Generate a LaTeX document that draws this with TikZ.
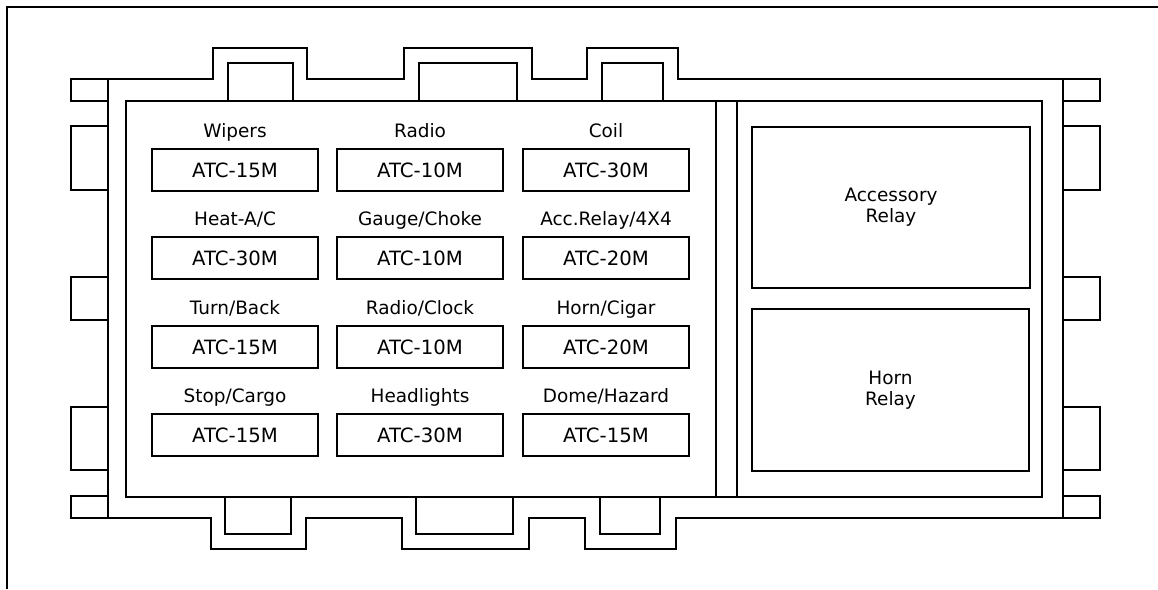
\documentclass[tikz,border=0pt]{standalone}
\usepackage{fontspec}
\setmainfont{DejaVu Sans}
\usetikzlibrary{positioning}

\tikzset{
  fusebox/.style={draw, line width=0.8pt, minimum width=3.32cm, minimum height=0.84cm, inner sep=0pt, font=\fontsize{11.2}{13}\selectfont},
  fuselabel/.style={inner sep=0pt, text height=0.75em, text depth=0.25em},
  relaybox/.style={draw, line width=1pt, align=center, inner sep=0pt, minimum width=5.55cm, minimum height=3.23cm},
}

\begin{document}
\begin{tikzpicture}[x=0.02cm, y=-0.02cm, line width=1pt, font=\fontsize{10.5}{12}\selectfont]
\useasboundingbox (0,0) rectangle (1158,589);
% page edge
\draw[line width=0.8pt] (1158,7) -- (7,7) -- (7,589);
% housing outline
\draw (108,79) -- (213,79) -- (213,48) -- (307,48) -- (307,79) -- (404,79) -- (404,48) -- (532,48) -- (532,79)
  -- (587,79) -- (587,48) -- (678,48) -- (678,79) -- (1063,79) -- (1063,518) -- (676,518) -- (676,549)
  -- (585,549) -- (585,518) -- (529,518) -- (529,549) -- (402,549) -- (402,518) -- (306,518) -- (306,549)
  -- (211,549) -- (211,518) -- (108,518) -- cycle;
% side tabs
\foreach \ya/\yb in {79/101, 126/190, 277/320, 407/470, 496/518} {
  \draw (108,\ya) -- (71,\ya) -- (71,\yb) -- (108,\yb);
  \draw (1063,\ya) -- (1100,\ya) -- (1100,\yb) -- (1063,\yb);
}
% lugs top and bottom
\foreach \xa/\xb in {228/293, 419/517, 602/663} \draw (\xa,101) -- (\xa,63) -- (\xb,63) -- (\xb,101);
\foreach \xa/\xb in {225/291, 416/513, 600/660} \draw (\xa,497) -- (\xa,534) -- (\xb,534) -- (\xb,497);
% inner frame
\draw (126,101) rectangle (1042,497);
\draw (716,101) -- (716,497) (737,101) -- (737,497);
% fuses
\foreach \n/\x/\y/\lab/\val in {
  wipers/235/170/{Wipers}/15, radio/420/170/{Radio}/10, coil/606/170/{Coil}/30,
  heatac/235/258/{Heat-A/C}/30, gauge/420/258/{Gauge/Choke}/10, accfour/606/258/{Acc.Relay/4X4}/20,
  turn/235/347/{Turn/Back}/15, radioclock/420/347/{Radio/Clock}/10, horncigar/606/347/{Horn/Cigar}/20,
  stop/235/435/{Stop/Cargo}/15, headlights/420/435/{Headlights}/30, dome/606/435/{Dome/Hazard}/15} {
  \node[fusebox] (\n) at (\x,\y) {ATC-\val M};
  \node[fuselabel, above=3pt of \n] (\n-lab) {\lab};
}
% relays
\node[relaybox] (accessory) at (891,207.5) {Accessory\\Relay};
\node[relaybox] (hornrelay) at (890.5,390) {Horn\\Relay};
\end{tikzpicture}
\end{document}
